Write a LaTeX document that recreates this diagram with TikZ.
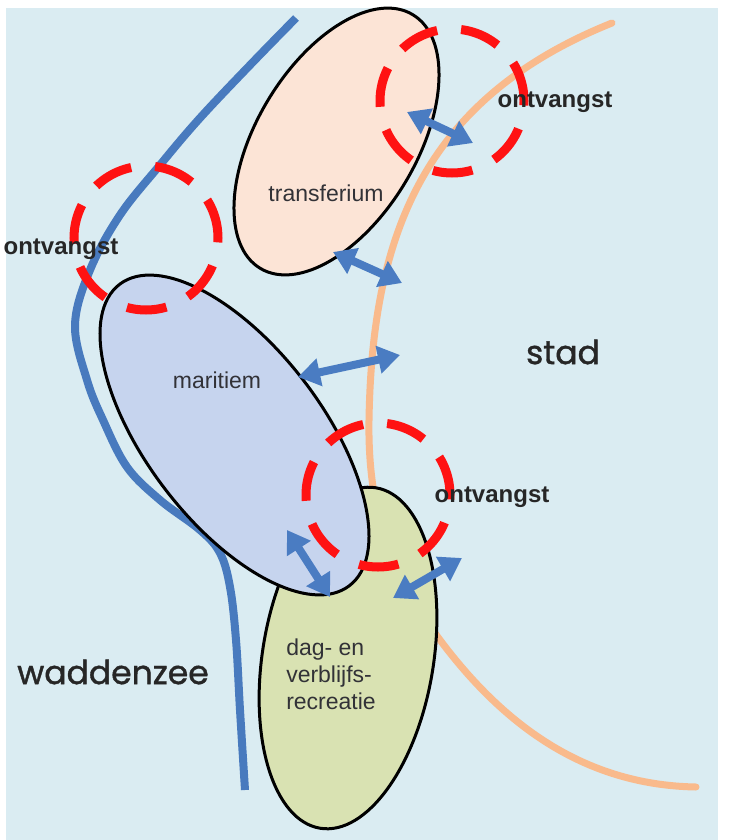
\documentclass[tikz,border=0pt]{standalone}
\usepackage{fontspec}
\setmainfont{Liberation Sans}
\newfontfamily\rondfont{Poppins}[FakeBold=1.2]
\usepackage{tikz}
\usetikzlibrary{arrows.meta,positioning,shapes.geometric}

\definecolor{achtergrond}{RGB}{218,236,242}
\definecolor{kustBlauw}{RGB}{72,122,190}
\definecolor{pijlBlauw}{RGB}{74,124,194}
\definecolor{stadOranje}{RGB}{249,186,140}
\definecolor{zoneRood}{RGB}{255,18,18}
\definecolor{transferPerzik}{RGB}{252,228,214}
\definecolor{maritiemBlauw}{RGB}{198,212,238}
\definecolor{recreatieGroen}{RGB}{217,226,178}
\definecolor{tekstGrijs}{RGB}{50,50,55}

\begin{document}
\begin{tikzpicture}[
    x=1pt,
    y=-1pt,
    gebied/.style={
        ellipse,
        draw=black,
        line width=3pt,
        inner sep=0pt
    },
    ontvangstzone/.style={
        circle,
        draw=zoneRood,
        line width=9pt,
        dash pattern=on 40pt off 24pt,
        minimum size=144pt,
        inner sep=0pt
    },
    pijl/.style={
        {Triangle[length=22pt,width=27pt]}-{Triangle[length=22pt,width=27pt]},
        draw=pijlBlauw,
        line width=8pt
    },
    naam/.style={
        font=\fontsize{23}{27}\selectfont,
        text=tekstGrijs
    },
    kop/.style={
        font=\fontsize{24}{28}\selectfont\bfseries,
        text=black!85
    },
    streek/.style={
        font=\rondfont\fontsize{33}{38}\selectfont,
        text=black!85
    }
]

\useasboundingbox (0,0) rectangle (733,840);

% Background
\fill[achtergrond] (6,8) rectangle (718,840);

% Edge of the town
\draw[stadOranje, line width=7pt, line cap=round]
    (612,23) .. controls (420,100) and (372,240) .. (369,420)
    .. controls (367,540) and (410,600) .. (440,640)
    .. controls (500,720) and (580,785) .. (696,787);

% Coast line
\draw[kustBlauw, line width=8pt]
    plot[smooth, tension=0.6] coordinates {
        (296,18) (253,62) (200,118) (160,165) (120,215) (90,270)
        (75,325) (87,380) (103,420) (127,467) (160,500) (200,530)
        (220,553) (230,587) (236,640) (240,710) (245,790)};

% Areas
\node[gebied, fill=recreatieGroen, minimum width=345pt, minimum height=171pt, rotate=80.7] (recreatie) at (348,658) {};
\node[gebied, fill=transferPerzik, minimum width=296pt, minimum height=160pt, rotate=59] (transferium) at (336.5,141.5) {};
\node[gebied, fill=maritiemBlauw, minimum width=379pt, minimum height=176pt, rotate=-52.7] (maritiem) at (234.5,435) {};

% Reception zones
\node[ontvangstzone] (zone1) at (452,101) {};
\node[ontvangstzone] (zone2) at (146,238) {};
\node[ontvangstzone] (zone3) at (378,495) {};

% Arrow ends
\coordinate (tr1) at (407,112);
\coordinate (st1) at (473,143);
\coordinate (tr2) at (333,252);
\coordinate (st2) at (402,283);
\coordinate (ma1) at (298,377);
\coordinate (st3) at (400,355);
\coordinate (ma2) at (287,530);
\coordinate (re1) at (330,597);
\coordinate (re2) at (393,598);
\coordinate (st4) at (462,558);

% Links
\draw[pijl] (tr1) -- (st1);
\draw[pijl] (tr2) -- (st2);
\draw[pijl] (ma1) -- (st3);
\draw[pijl] (ma2) -- (re1);
\draw[pijl] (re2) -- (st4);

% Names of the areas
\node[naam] (ntransferium) at (326,193) {transferium};
\node[naam] (nmaritiem) at (217,380) {maritiem};
\node[naam, align=left] (nrecreatie) at (331,674) {dag- en\\verblijfs-\\recreatie};

% Reception labels
\node[kop] (ontv1) at (555,102) {ontvangst};
\node[kop] (ontv2) at (61,249) {ontvangst};
\node[kop] (ontv3) at (492,497) {ontvangst};

% Regions
\node[streek] (stad) at (563,352) {stad};
\node[streek] (waddenzee) at (113,672) {waddenzee};

\end{tikzpicture}
\end{document}
